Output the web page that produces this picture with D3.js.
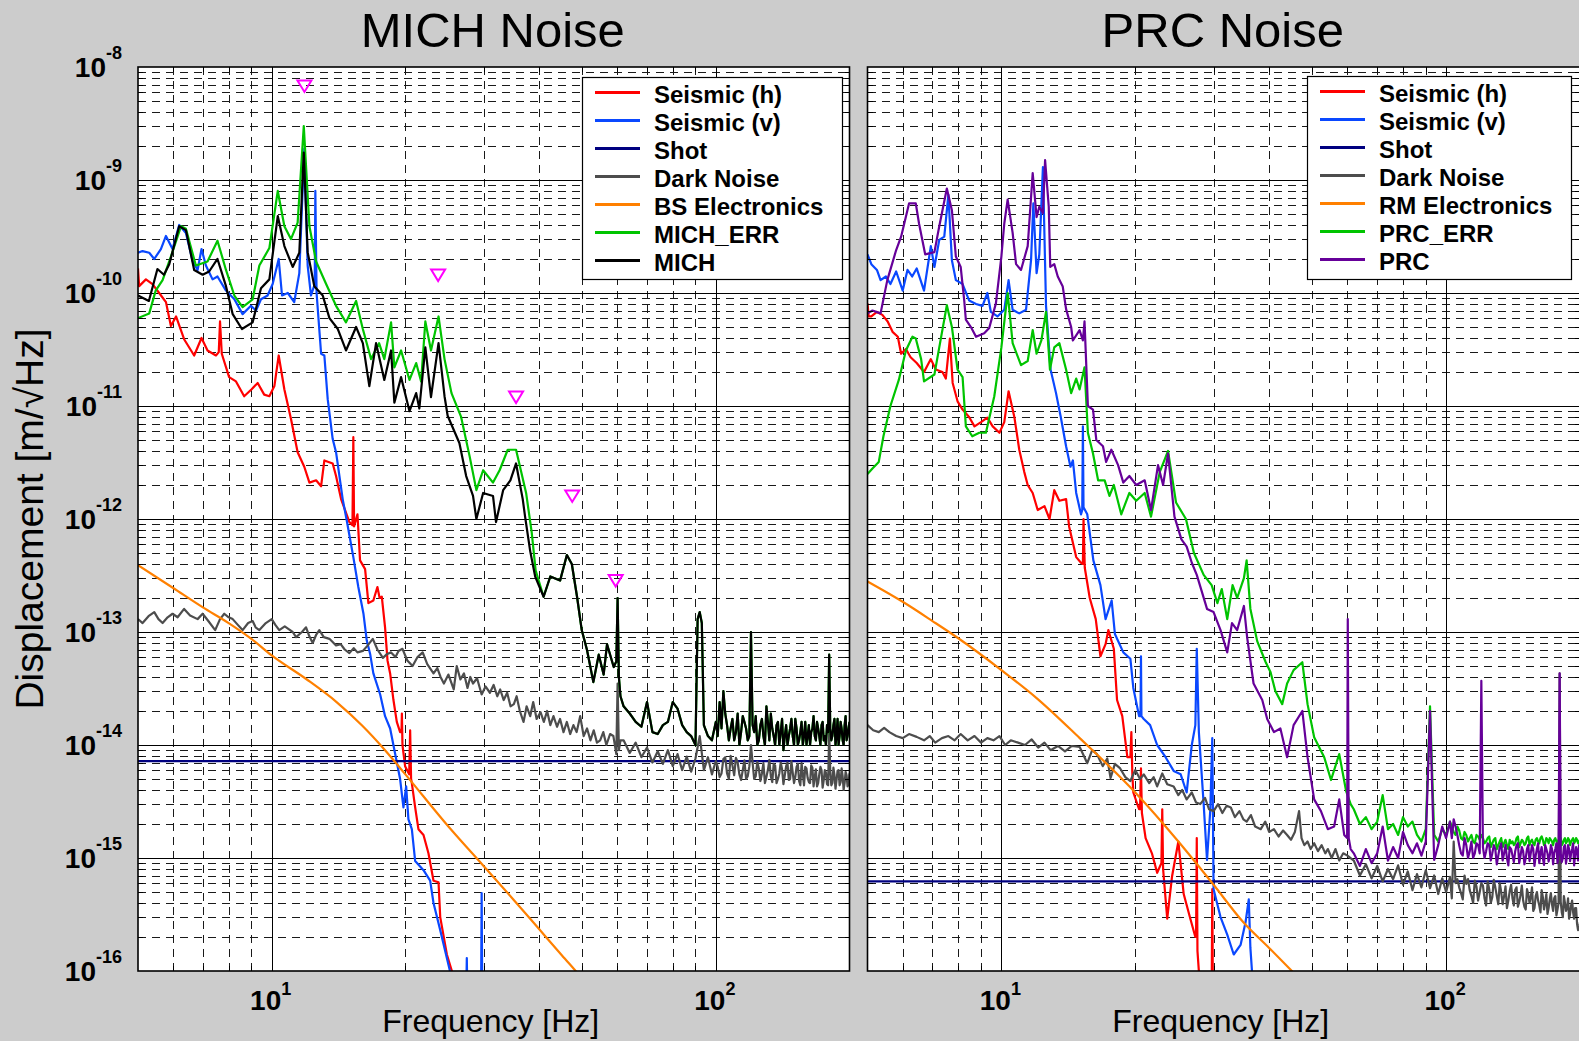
<!DOCTYPE html>
<html>
<head>
<meta charset="utf-8">
<script src="https://cdn.jsdelivr.net/npm/d3@7"></script>
<style>
  body { margin: 0; background: #cccccc; }
  svg { display: block; }
  text { font-family: "Liberation Sans", Arial, Helvetica, sans-serif; }
</style>
</head>
<body>
<svg id="chart" width="1579" height="1041"></svg>
<script>
// ---------- MICH panel: [frequency Hz, displacement m/rtHz] ----------
const michSeisH = [[5.0,1.65e-10],[5.03,1.15e-10],[5.21,1.32e-10],[5.39,1.2e-10],[5.58,1.0e-10],[5.78,8.3e-11],[5.93,5.1e-11],[6.09,6.2e-11],[6.35,3.9e-11],[6.69,2.8e-11],[6.95,4.0e-11],[7.17,3.1e-11],[7.49,2.8e-11],[7.6,3.0e-11],[7.65,5.6e-11],[7.72,2.9e-11],[8.02,1.8e-11],[8.31,1.65e-11],[8.67,1.22e-11],[9.0,1.4e-11],[9.3,1.6e-11],[9.62,1.26e-11],[9.88,1.22e-11],[10.14,1.5e-11],[10.37,2.8e-11],[10.68,1.4e-11],[11.05,7.7e-12],[11.44,3.9e-12],[11.84,2.9e-12],[12.16,2.1e-12],[12.59,2.2e-12],[12.92,1.95e-12],[13.14,3.3e-12],[13.72,3.1e-12],[13.96,2.4e-12],[14.33,1.5e-12],[14.96,9.4e-13],[15.2,8.8e-13],[15.27,5.3e-12],[15.33,8.6e-13],[15.6,1.1e-12],[15.81,4.3e-13],[16.23,3.6e-13],[16.51,1.8e-13],[16.94,1.9e-13],[17.3,2.5e-13],[17.5,2.0e-13],[17.7,2.05e-13],[18.0,1.1e-13],[18.23,5.6e-14],[18.48,4.3e-14],[18.8,2.5e-14],[19.13,1.6e-14],[19.46,1.3e-14],[19.6,1.3e-14],[19.64,1.9e-14],[19.7,1.0e-14],[19.97,6.5e-15],[20.4,5.5e-15],[20.5,1.35e-14],[20.6,5.0e-15],[20.68,4.6e-15],[21.04,2.8e-15],[21.4,1.8e-15],[21.97,1.6e-15],[22.54,1.1e-15],[23.14,6.3e-16],[23.75,6.1e-16],[23.96,3.0e-16],[24.8,1.4e-16],[25.45,1.0e-16],[26.0,7e-17]];

const michSeisV = [[5.0,2.27e-10],[5.12,2.35e-10],[5.3,2.27e-10],[5.44,2.0e-10],[5.63,2.45e-10],[5.78,3.2e-10],[5.98,2.45e-10],[6.19,4.0e-10],[6.41,3.4e-10],[6.64,1.9e-10],[6.81,1.6e-10],[6.95,2.45e-10],[7.11,1.75e-10],[7.36,1.32e-10],[7.55,1.4e-10],[7.89,1.05e-10],[8.24,8.8e-11],[8.6,6.5e-11],[8.98,7.7e-11],[9.22,7.0e-11],[9.46,8.8e-11],[9.79,9.5e-11],[10.05,1.2e-10],[10.37,2.0e-10],[10.55,9.5e-11],[10.87,1.0e-10],[11.24,8.3e-11],[11.54,1.5e-10],[11.84,1.9e-9],[12.05,1.75e-10],[12.26,9.5e-11],[12.5,1.2e-10],[12.54,8.0e-10],[12.62,1.0e-10],[12.92,2.9e-11],[13.14,2.8e-11],[13.37,1.15e-11],[13.72,5.1e-12],[13.96,3.9e-12],[14.45,1.5e-12],[14.75,9.8e-13],[15.27,4.6e-13],[15.67,2.5e-13],[16.09,1.46e-13],[16.37,8.4e-14],[16.66,6.4e-14],[16.94,4.3e-14],[17.55,2.8e-14],[18.0,1.8e-14],[18.48,1.4e-14],[18.96,8.4e-15],[19.46,5.0e-15],[19.8,2.8e-15],[20.08,4.3e-15],[20.32,2.2e-15],[20.68,1.8e-15],[21.04,9.4e-16],[21.97,7.8e-16],[22.74,6.3e-16],[23.14,4.0e-16],[23.96,2.3e-16],[25.2,1.0e-16],[26.0,7e-17],[27.4,5e-17],[27.5,1.3e-16],[27.6,5e-17],[29.6,5e-17],[29.7,4.9e-16],[29.8,5e-17],[32.0,4e-17]];

const michShot = [[5,7.2e-15],[200,7.2e-15]];

const michDarkMain = [[5.0,1.3e-13],[5.12,1.2e-13],[5.28,1.38e-13],[5.44,1.5e-13],[5.56,1.3e-13],[5.68,1.2e-13],[5.83,1.35e-13],[5.98,1.45e-13],[6.14,1.35e-13],[6.35,1.6e-13],[6.55,1.4e-13],[6.81,1.3e-13],[6.99,1.45e-13],[7.2,1.25e-13],[7.46,1.04e-13],[7.65,1.3e-13],[7.82,1.45e-13],[8.0,1.35e-13],[8.17,1.3e-13],[8.4,1.15e-13],[8.6,1.04e-13],[8.85,1.2e-13],[9.06,1.25e-13],[9.2,1.1e-13],[9.38,1.04e-13],[9.7,1.2e-13],[10.0,1.3e-13],[10.2,1.15e-13],[10.4,1.04e-13],[10.7,1.12e-13],[10.96,1.05e-13],[11.15,1.0e-13],[11.35,9.0e-14],[11.7,1.0e-13],[11.95,1.1e-13],[12.15,9.2e-14],[12.37,8.0e-14],[12.6,9.5e-14],[12.8,1.04e-13],[13.1,9.0e-14],[13.49,8.7e-14],[13.7,8.2e-14],[13.96,7.6e-14],[14.3,7.8e-14],[14.6,7.0e-14],[14.96,6.5e-14],[15.3,7.2e-14],[15.6,6.6e-14],[16.04,6.8e-14],[16.4,7.5e-14],[16.89,8.7e-14],[17.3,7.0e-14],[17.8,5.9e-14],[18.2,6.4e-14],[18.57,6.6e-14],[19.0,6.0e-14],[19.3,6.8e-14],[19.7,7.1e-14],[20.2,5.6e-14],[20.76,5.0e-14],[21.3,6.0e-14],[21.88,6.6e-14],[22.4,5.2e-14],[23.14,4.3e-14],[23.6,4.8e-14],[24.0,4.0e-14],[24.42,3.5e-14],[25.0,4.2e-14],[25.7,3.1e-14],[26.1,5.0e-14],[26.6,3.8e-14],[27.1,4.3e-14],[27.6,3.2e-14],[28.0,4.0e-14],[28.4,3.5e-14],[29.0,3.9e-14],[29.7,2.8e-14],[30.3,3.3e-14],[31.0,2.9e-14],[31.6,3.4e-14],[32.2,2.7e-14],[32.7,3.1e-14],[33.3,2.5e-14],[33.9,2.9e-14],[34.5,2.2e-14],[35.1,2.3e-14],[35.6,2.7e-14],[36.2,2.0e-14],[36.9,1.6e-14],[37.5,2.2e-14],[38.2,1.8e-14],[38.8,2.4e-14],[39.5,1.7e-14],[40.3,1.95e-14],[41.0,1.6e-14],[41.7,2.0e-14],[42.4,1.5e-14],[43.1,1.8e-14],[43.9,1.45e-14],[44.6,1.7e-14],[45.4,1.3e-14],[46.2,1.6e-14],[47.0,1.25e-14],[47.8,1.5e-14],[48.6,1.3e-14],[49.5,1.8e-14],[50.4,1.2e-14],[51.3,1.4e-14],[52.2,1.1e-14],[53.1,1.35e-14],[54.0,1.05e-14],[54.9,1.1e-14],[55.8,1.3e-14],[56.7,1.0e-14],[57.8,1.25e-14],[58.8,1.2e-14],[59.7,8.3e-15],[60.1,3.5e-14],[60.5,9.0e-15],[61.0,1.1e-14],
  [62,1.1e-14],[64,8.5e-15],[66,1.05e-14],[68,7.8e-15],[70,9.5e-15],[72,7.0e-15],[74,8.8e-15],[76,6.8e-15],[78,9.0e-15],[80,6.5e-15],[82,8.3e-15],[84,6.0e-15],[86,7.9e-15],[88,5.8e-15],[90,7.6e-15],[92,1.2e-14],[94,6.0e-15],[96,7.8e-15],[98,5.5e-15],[100,7.2e-15],[102,5.2e-15],[104,7.5e-15],[106,5.6e-15],[108,8.0e-15],[110,5.4e-15],[112,7.0e-15],[114,4.9e-15],[116,7.3e-15],[118,5.3e-15],[120,1.0e-14],[122,5.0e-15],[124,7.1e-15],[126,4.8e-15],[128,6.9e-15],[130,5.2e-15],[132,7.4e-15],[134,4.7e-15],[136,6.6e-15],[138,5.0e-15],[140,7.0e-15],[142,4.5e-15],[144,6.5e-15],[146,4.9e-15],[148,7.2e-15],[150,4.6e-15],[152,6.4e-15],[154,4.8e-15],[156,6.9e-15],[158,4.4e-15],[160,6.2e-15],[162,4.7e-15],[164,6.6e-15],[166,4.3e-15],[168,6.1e-15],[170,4.6e-15],[172,6.4e-15],[174,4.2e-15],[176,6.0e-15],[178,4.5e-15],[180,1.3e-14],[182,4.4e-15],[184,6.3e-15],[186,4.1e-15],[188,5.9e-15],[190,4.4e-15],[192,6.2e-15],[194,4.0e-15],[196,5.8e-15],[198,4.3e-15],[200,5.6e-15]];
const michDarkFine = [[101,6.4e-15],[103,5.6e-15],[105,7.8e-15],[107,5.0e-15],[109,6.6e-15],[111,7.7e-15],[113,5.5e-15],[115,6.0e-15],[117,5.0e-15],[119,6.5e-15],[121,7.0e-15],[123,5.3e-15],[125,6.2e-15],[127,5.6e-15],[129,4.6e-15],[131,6.0e-15],[133,5.3e-15],[135,6.8e-15],[137,4.6e-15],[139,5.6e-15],[141,6.1e-15],[143,5.4e-15],[145,7.0e-15],[147,5.0e-15],[149,5.7e-15],[151,5.2e-15],[153,6.8e-15],[155,4.4e-15],[157,5.5e-15],[159,6.4e-15],[161,5.1e-15],[163,4.6e-15],[165,6.3e-15],[167,5.2e-15],[169,4.3e-15],[171,5.5e-15],[173,6.0e-15],[175,4.9e-15],[177,5.7e-15],[179,4.4e-15],[181,5.9e-15],[183,4.6e-15],[185,5.4e-15],[187,4.9e-15],[189,6.0e-15],[191,4.7e-15],[193,5.3e-15],[195,4.6e-15],[197,5.4e-15],[199,4.5e-15]];

const bsElectronics = [[5,3.9e-13],[6,2.45e-13],[7,1.65e-13],[8,1.2e-13],[9,8.7e-14],[10,6.2e-14],[12,3.8e-14],[14,2.4e-14],[16,1.48e-14],[18,9.0e-15],[20,5.5e-15],[25,1.9e-15],[30,8.5e-16],[35,4.3e-16],[40,2.35e-16],[45,1.38e-16],[50,8.6e-17],[55,5.5e-17]];

const michSignalMain = [[5.0,9.5e-11],[5.29,8.5e-11],[5.53,1.63e-10],[5.72,1.45e-10],[5.88,1.8e-10],[6.19,3.9e-10],[6.41,3.6e-10],[6.69,1.6e-10],[6.99,1.45e-10],[7.23,1.55e-10],[7.55,2.0e-10],[7.89,1.15e-10],[8.17,6.5e-11],[8.57,4.8e-11],[9.06,5.5e-11],[9.46,1.1e-10],[9.88,1.32e-10],[10.32,4.8e-10],[10.68,2.6e-10],[11.15,1.7e-10],[11.54,2.27e-10],[11.81,1.75e-9],[12.05,2.3e-10],[12.47,1.15e-10],[13.03,9.5e-11],[13.49,6.0e-11],[14.09,4.8e-11],[14.7,3.1e-11],[15.49,5.0e-11],[16.04,3.6e-11],[16.59,1.5e-11],[17.18,3.6e-11],[17.93,1.7e-11],[18.57,3.1e-11],[18.89,1.07e-11],[19.56,1.8e-11],[20.43,9.0e-12],[21.15,1.3e-11],[21.5,9.5e-12],[22.18,3.3e-11],[22.84,1.2e-11],[23.75,3.6e-11],[24.5,1.22e-11],[24.9,8.2e-12],[26.46,4.7e-12],[27.41,2.4e-12],[28.4,1.6e-12],[28.9,1.0e-12],[29.93,1.7e-12],[31.5,1.6e-12],[32.0,9.4e-13],[33.2,1.8e-12],[34.47,2.2e-12],[35.5,3.1e-12],[36.75,1.5e-12],[37.2,1.05e-12],[38.2,5.2e-13],[39.2,3.1e-13],[40.95,2.05e-13],[42.4,3.1e-13],[44.6,2.85e-13],[46.2,4.8e-13],[47.4,4.0e-13],[48.7,2.05e-13],[49.9,1.04e-13],[51.3,6.9e-14],[53.0,3.6e-14],[54.5,6.3e-14],[55.9,4.2e-14],[56.9,7.8e-14],[58.9,4.9e-14],[59.7,5.5e-14],[60.1,2.0e-13],[60.5,4.0e-14],[61.0,2.7e-14],
  [62,2.2e-14],[64,1.9e-14],[66,1.6e-14],[68,1.45e-14],[70,2.4e-14],[72,1.3e-14],[74,1.25e-14],[76,1.5e-14],[78,1.6e-14],[80,2.4e-14],[82,2.1e-14],[84,1.5e-14],[86,1.3e-14],[88,1.2e-14],[90,1.0e-14],[91,1.3e-13],[92,1.5e-13],[93,1.2e-13],[94,1.5e-14],[96,1.2e-14],[98,1.1e-14],[100,1.6e-14],[102,2.4e-14],[104,3.0e-14],[106,1.5e-14],[108,1.4e-14],[110,1.1e-14],[112,1.9e-14],[114,1.3e-14],[116,1.6e-14],[118,1.1e-14],[120,1.0e-13],[122,1.3e-14],[124,1.0e-14],[126,1.5e-14],[128,1.2e-14],[130,2.2e-14],[132,1.1e-14],[134,1.4e-14],[136,1.0e-14],[138,1.6e-14],[140,1.3e-14],[142,0.9e-14],[144,1.5e-14],[146,1.2e-14],[148,1.7e-14],[150,1.0e-14],[152,1.4e-14],[154,1.1e-14],[156,1.6e-14],[158,1.2e-14],[160,1.0e-14],[162,1.5e-14],[164,1.3e-14],[166,1.8e-14],[168,1.1e-14],[170,1.4e-14],[172,1.0e-14],[174,1.6e-14],[176,1.2e-14],[178,1.5e-14],[180,6.3e-14],[182,1.1e-14],[184,1.5e-14],[186,1.0e-14],[188,1.7e-14],[190,1.2e-14],[192,1.4e-14],[194,1.0e-14],[196,1.8e-14],[198,1.2e-14],[200,1.6e-14]];
const michSignalFine = [[101,1.2e-14],[103,1.4e-14],[105,1.9e-14],[107,1.1e-14],[109,1.7e-14],[111,1.3e-14],[113,1.0e-14],[115,1.8e-14],[117,1.4e-14],[119,1.2e-14],[121,1.5e-14],[123,1.8e-14],[125,1.1e-14],[127,1.7e-14],[129,1.0e-14],[131,1.6e-14],[133,1.9e-14],[135,1.2e-14],[137,1.5e-14],[139,1.0e-14],[141,1.7e-14],[143,1.2e-14],[145,1.0e-14],[147,1.4e-14],[149,1.2e-14],[151,1.7e-14],[153,1.0e-14],[155,1.3e-14],[157,1.0e-14],[159,1.6e-14],[161,1.2e-14],[163,1.0e-14],[165,1.4e-14],[167,1.2e-14],[169,1.6e-14],[171,1.2e-14],[173,1.5e-14],[175,1.1e-14],[177,1.0e-14],[179,1.3e-14],[181,1.4e-14],[183,1.2e-14],[185,1.7e-14],[187,1.2e-14],[189,1.0e-14],[191,1.6e-14],[193,1.1e-14],[195,1.5e-14],[197,1.1e-14],[199,1.4e-14]];

// error signal below 40 Hz; above that it runs under the calibrated signal
const michErrLow = [[5.0,6.0e-11],[5.3,6.6e-11],[5.48,1.05e-10],[5.68,1.3e-10],[5.93,2.1e-10],[6.25,3.9e-10],[6.41,3.7e-10],[6.75,1.75e-10],[7.17,1.9e-10],[7.55,2.9e-10],[7.89,1.6e-10],[8.24,9.5e-11],[8.6,7.5e-11],[9.06,8.8e-11],[9.38,1.75e-10],[9.88,2.5e-10],[10.32,8.0e-10],[10.68,3.9e-10],[11.05,3.0e-10],[11.44,4.2e-10],[11.81,3.0e-9],[12.16,3.9e-10],[12.59,1.9e-10],[13.26,1.2e-10],[13.96,7.7e-11],[14.7,5.5e-11],[15.49,8.5e-11],[16.04,4.8e-11],[16.74,2.6e-11],[17.45,3.6e-11],[17.93,2.6e-11],[18.57,5.5e-11],[18.89,2.2e-11],[19.56,3.1e-11],[20.43,1.7e-11],[21.15,2.4e-11],[21.7,1.65e-11],[22.18,5.6e-11],[22.84,3.1e-11],[23.75,6.2e-11],[24.5,2.6e-11],[25.4,1.3e-11],[26.7,8.0e-12],[27.9,3.6e-12],[28.9,1.8e-12],[29.93,2.7e-12],[31.5,2.1e-12],[32.6,2.7e-12],[34.0,4.1e-12],[35.5,4.1e-12],[37.4,1.7e-12],[38.5,7.6e-13],[39.3,3.5e-13]];

// harmonic markers
const michMarkers = [[11.85,6.8e-9],[23.7,1.44e-10],[35.5,1.2e-11],[47.5,1.6e-12],[59.5,2.85e-13]];

// ---------- PRC panel ----------
const prcSeisH = [[5.0,8.1e-11],[5.03,6.2e-11],[5.1,6.2e-11],[5.25,6.8e-11],[5.4,6.4e-11],[5.55,5.6e-11],[5.7,4.5e-11],[5.85,4.1e-11],[5.95,2.9e-11],[6.1,3.2e-11],[6.25,2.7e-11],[6.45,2.4e-11],[6.7,2.0e-11],[6.94,2.6e-11],[7.12,2.1e-11],[7.37,2.0e-11],[7.5,1.75e-11],[7.66,3.95e-11],[7.77,1.6e-11],[7.97,1.1e-11],[8.18,9.3e-12],[8.46,8.0e-12],[8.7,6.6e-12],[9.0,7.2e-12],[9.3,7.9e-12],[9.56,6.6e-12],[9.9,5.8e-12],[10.15,7.2e-12],[10.38,1.35e-11],[10.7,7.9e-12],[10.97,4.1e-12],[11.26,2.6e-12],[11.46,2.0e-12],[11.76,1.7e-12],[12.07,1.2e-12],[12.5,1.3e-12],[12.83,1.0e-12],[13.15,1.8e-12],[13.5,1.45e-12],[13.98,1.5e-12],[14.2,8.6e-13],[14.73,4.6e-13],[15.1,4.1e-13],[15.25,4.0e-13],[15.3,1.0e-12],[15.4,3.7e-13],[15.8,2.0e-13],[16.3,1.3e-13],[16.7,6.1e-14],[17.15,7.8e-14],[17.4,1.04e-13],[17.9,7.1e-14],[18.2,2.5e-14],[18.7,1.8e-14],[19.2,7.8e-15],[19.5,7.8e-15],[19.6,1.3e-14],[19.7,5.5e-15],[19.8,3.8e-15],[20.4,2.7e-15],[20.5,2.7e-15],[20.6,6.2e-15],[20.7,2.5e-15],[21.1,1.5e-15],[21.8,1.1e-15],[22.4,7.4e-16],[22.9,9e-16],[23.0,2.7e-15],[23.1,8e-16],[23.6,2.9e-16],[24.2,6.9e-16],[25.0,1.4e-15],[25.7,4.8e-16],[26.6,2.9e-16],[27.3,2.0e-16],[27.4,2.0e-16],[27.5,1.5e-15],[27.6,1.5e-16],[27.8,1.0e-16],[28.5,5e-17],[29.7,5e-17],[29.8,5.3e-16],[29.9,5e-17]];

const prcSeisV = [[5.0,2.2e-10],[5.1,1.8e-10],[5.25,1.6e-10],[5.35,1.3e-10],[5.5,1.4e-10],[5.63,1.2e-10],[5.8,1.55e-10],[6.0,1.05e-10],[6.15,1.6e-10],[6.3,1.4e-10],[6.45,1.65e-10],[6.7,1.05e-10],[6.94,2.6e-10],[7.07,1.7e-10],[7.25,2.95e-10],[7.44,3.15e-10],[7.6,7.4e-10],[7.74,1.95e-10],[7.9,1.3e-10],[8.18,1.2e-10],[8.46,8.6e-11],[8.77,8.0e-11],[9.07,7.7e-11],[9.3,1.0e-10],[9.47,6.8e-11],[9.8,6.2e-11],[10.15,7.1e-11],[10.38,1.3e-10],[10.6,7.1e-11],[10.97,6.6e-11],[11.36,7.1e-11],[11.66,1.95e-10],[11.8,6.2e-10],[12.0,1.5e-10],[12.17,2.2e-10],[12.4,1.3e-9],[12.6,7.7e-11],[12.9,2.1e-11],[13.27,1.3e-11],[13.6,8.0e-12],[13.98,4.4e-12],[14.3,2.9e-12],[14.48,3.3e-12],[14.73,1.7e-12],[15.1,1.1e-12],[15.2,1.2e-12],[15.25,6.6e-12],[15.3,1.27e-12],[15.6,1.1e-12],[16.1,4.3e-13],[16.7,2.6e-13],[17.15,1.3e-13],[17.7,1.9e-13],[18.0,9.6e-14],[18.8,6.6e-14],[19.5,5.8e-14],[19.8,3.2e-14],[20.4,1.8e-14],[20.55,1.8e-14],[20.6,6.1e-14],[20.65,1.8e-14],[20.9,1.7e-14],[21.6,1.5e-14],[22.4,1.0e-14],[23.4,7.8e-15],[24.4,5.9e-15],[25.3,5.5e-15],[26.1,3.8e-15],[26.8,1.0e-14],[27.3,1.5e-14],[27.5,7.1e-14],[27.8,1.3e-14],[28.5,3.0e-15],[29.0,9.6e-16],[29.5,2.7e-15],[29.8,1.15e-14],[30.0,5.3e-16],[31.1,3.0e-16],[32.2,2.1e-16],[33.3,1.4e-16],[34.5,1.7e-16],[35.4,2.7e-16],[36.0,4.3e-16],[36.3,1.6e-16],[36.6,1.0e-16],[37.0,5e-17]];

const prcShot = [[5,6.2e-16],[200,6.2e-16]];

const prcDarkMain = [[5.0,1.5e-14],[5.15,1.35e-14],[5.3,1.3e-14],[5.45,1.42e-14],[5.6,1.3e-14],[5.8,1.2e-14],[6.0,1.15e-14],[6.2,1.25e-14],[6.45,1.18e-14],[6.7,1.1e-14],[6.9,1.2e-14],[7.1,1.05e-14],[7.35,1.15e-14],[7.6,1.2e-14],[7.85,1.1e-14],[8.1,1.25e-14],[8.4,1.1e-14],[8.7,1.2e-14],[9.0,1.05e-14],[9.3,1.15e-14],[9.6,1.1e-14],[9.9,1.2e-14],[10.2,1.0e-14],[10.5,1.1e-14],[10.9,1.05e-14],[11.3,1.0e-14],[11.7,1.12e-14],[12.1,9.5e-15],[12.5,1.05e-14],[12.9,9.0e-15],[13.4,9.8e-15],[13.9,8.8e-15],[14.4,9.8e-15],[15.0,9.6e-15],
  [15.6,6.9e-15],[16.0,9.0e-15],[16.4,8.3e-15],[16.9,6.5e-15],[17.3,7.6e-15],[17.6,5.1e-15],[18.0,6.8e-15],[18.5,6.2e-15],[19.0,5.2e-15],[19.5,4.8e-15],[20.0,6.0e-15],[20.5,5.0e-15],[20.9,5.5e-15],[21.5,4.6e-15],[22.0,5.2e-15],[22.4,4.3e-15],[23.0,5.6e-15],[23.6,4.5e-15],[24.4,4.3e-15],[25.0,3.6e-15],[25.5,4.0e-15],[26.1,3.3e-15],[26.8,3.8e-15],[27.4,3.1e-15],[28.0,3.0e-15],[28.7,3.4e-15],[29.3,2.7e-15],[30.0,2.6e-15],[30.7,3.0e-15],[31.4,2.5e-15],[32.1,2.9e-15],[32.8,2.8e-15],[33.5,2.3e-15],[34.3,2.6e-15],[35.0,2.2e-15],[35.6,2.1e-15],[36.4,2.4e-15],[37.2,1.9e-15],[38.3,1.8e-15],[39.2,2.1e-15],[40.0,1.7e-15],[41.0,1.8e-15],[42.0,1.55e-15],[43.0,1.75e-15],[43.9,1.6e-15],[44.8,1.45e-15],[45.7,1.7e-15],[46.7,2.6e-15],[47.3,1.5e-15],[48.0,1.3e-15],[48.8,1.4e-15],[49.6,1.2e-15],[50.5,1.35e-15],[51.5,1.15e-15],[52.5,1.3e-15],[53.5,1.1e-15],[54.2,1.2e-15],[55.3,1.0e-15],[56.4,1.2e-15],[57.5,9.5e-16],[58.7,1.1e-15],[60.0,1.05e-15],
  [62,9.5e-16],[64,7.0e-16],[66,8.8e-16],[68,6.6e-16],[70,8.5e-16],[72,6.2e-16],[74,8.0e-16],[76,6.5e-16],[78,8.6e-16],[80,5.8e-16],[82,7.6e-16],[84,5.2e-16],[86,7.2e-16],[88,5.5e-16],[90,7.8e-16],[92,5.4e-16],[94,7.0e-16],[96,4.8e-16],[98,6.6e-16],[100,5.0e-16],[102,6.8e-16],[104,1.4e-15],[106,6.5e-16],[108,4.9e-16],[110,7.0e-16],[112,6.5e-16],[114,4.6e-16],[116,6.3e-16],[118,4.2e-16],[120,6.0e-16],[122,4.4e-16],[124,6.2e-16],[126,4.0e-16],[128,6.4e-16],[130,4.6e-16],[132,6.0e-16],[134,3.9e-16],[136,5.6e-16],[138,4.2e-16],[140,5.8e-16],[142,3.8e-16],[144,5.5e-16],[146,4.1e-16],[148,5.7e-16],[150,3.7e-16],[152,5.3e-16],[154,4.0e-16],[156,5.5e-16],[158,3.6e-16],[160,5.0e-16],[162,3.8e-16],[164,5.2e-16],[166,3.5e-16],[168,4.8e-16],[170,3.6e-16],[172,4.9e-16],[174,3.4e-16],[176,4.6e-16],[178,3.5e-16],[180,4.3e-14],[182,3.3e-16],[184,4.6e-16],[186,3.4e-16],[188,4.4e-16],[190,3.2e-16],[192,4.2e-16],[194,2.9e-16],[196,3.6e-16],[198,2.3e-16],[200,2.7e-16]];
const prcDarkFine = [[101,5.8e-16],[103,4.4e-16],[105,6.0e-16],[107,5.5e-16],[109,4.3e-16],[111,5.9e-16],[113,5.2e-16],[115,4.0e-16],[117,5.6e-16],[119,5.0e-16],[121,5.7e-16],[123,3.8e-16],[125,5.3e-16],[127,4.5e-16],[129,5.5e-16],[131,3.9e-16],[133,5.0e-16],[135,4.6e-16],[137,3.6e-16],[139,5.1e-16],[141,4.4e-16],[143,5.2e-16],[145,3.7e-16],[147,4.7e-16],[149,4.2e-16],[151,3.5e-16],[153,4.8e-16],[155,4.5e-16],[157,3.4e-16],[159,4.6e-16],[161,4.2e-16],[163,3.3e-16],[165,4.5e-16],[167,4.0e-16],[169,3.2e-16],[171,4.3e-16],[173,3.9e-16],[175,4.4e-16],[177,3.1e-16],[179,4.0e-16],[181,4.1e-16],[183,3.0e-16],[185,4.0e-16],[187,3.6e-16],[189,2.9e-16],[191,3.8e-16],[193,3.3e-16],[195,3.6e-16],[197,2.6e-16],[199,2.4e-16]];

const rmElectronics = [[5,2.8e-13],[6,1.85e-13],[7,1.25e-13],[8,8.8e-14],[10,4.6e-14],[12,2.6e-14],[15,1.15e-14],[20,3.8e-15],[25,1.4e-15],[30,5.8e-16],[35,2.7e-16],[40,1.6e-16],[45,1.0e-16],[50,6.5e-17]];

const prcErrMain = [[5.0,2.5e-12],[5.13,2.8e-12],[5.3,3.2e-12],[5.43,5.4e-12],[5.63,1.0e-11],[5.88,1.7e-11],[6.1,3.1e-11],[6.31,4.1e-11],[6.42,3.95e-11],[6.6,2.6e-11],[6.7,1.65e-11],[7.07,1.9e-11],[7.25,3.3e-11],[7.54,7.8e-11],[7.74,5.0e-11],[7.97,2.1e-11],[8.18,1.8e-11],[8.32,6.6e-12],[8.6,5.4e-12],[8.92,5.8e-12],[9.23,5.8e-12],[9.64,1.22e-11],[10.0,3.3e-11],[10.33,1.0e-10],[10.6,3.6e-11],[11.07,2.3e-11],[11.46,2.5e-11],[11.76,4.7e-11],[12.0,2.9e-11],[12.3,3.8e-11],[12.6,6.8e-11],[12.86,2.1e-11],[13.15,3.3e-11],[13.5,3.6e-11],[13.98,2.1e-11],[14.35,1.3e-11],[14.73,1.75e-11],[14.99,1.4e-11],[15.38,2.2e-11],[15.65,5.8e-12],[16.07,3.8e-12],[16.5,2.2e-12],[17.07,2.2e-12],[17.5,1.6e-12],[17.9,2.0e-12],[18.6,1.1e-12],[19.4,1.7e-12],[20.1,1.45e-12],[21.0,1.7e-12],[21.7,1.05e-12],[22.7,2.6e-12],[23.7,4.0e-12],[24.7,1.4e-12],[26.0,1.0e-12],[27.1,5.0e-13],[28.5,3.2e-13],[29.7,2.6e-13],[30.6,1.8e-13],[31.3,2.4e-13],[32.2,1.3e-13],[33.1,2.6e-13],[33.9,2.0e-13],[35.1,3.0e-13],[35.6,4.3e-13],[36.3,1.6e-13],[37.6,8.3e-14],[39.3,5.4e-14],[40.3,4.4e-14],[41.3,3.0e-14],[42.8,2.3e-14],[43.9,3.5e-14],[45.4,4.6e-14],[47.5,5.4e-14],[48.8,2.3e-14],[50.5,1.17e-14],[53.2,7.8e-15],[55.1,4.9e-15],[57.5,8.3e-15],[59.6,3.9e-15],[61.0,3.0e-15],
  [62,2.7e-15],[64,2.0e-15],[66,2.3e-15],[68,1.8e-15],[70,2.1e-15],[72,3.6e-15],[74,1.8e-15],[76,2.0e-15],[78,1.6e-15],[80,2.3e-15],[82,1.9e-15],[84,2.1e-15],[86,1.6e-15],[88,1.4e-15],[90,1.8e-15],[92,2.2e-14],[94,1.6e-15],[96,1.4e-15],[98,1.8e-15],[100,1.6e-15],[102,2.1e-15],[104,1.7e-15],[106,1.9e-15],[108,1.5e-15],[110,1.7e-15],[112,1.4e-15],[114,1.6e-15],[116,1.35e-15],[118,1.55e-15],[120,1.6e-15],[122,1.35e-15],[124,1.5e-15],[126,1.25e-15],[128,1.45e-15],[130,1.2e-15],[132,1.4e-15],[134,1.25e-15],[136,1.45e-15],[138,1.2e-15],[140,1.35e-15],[142,1.3e-15],[144,1.5e-15],[146,1.25e-15],[148,1.45e-15],[150,1.3e-15],[152,1.5e-15],[154,1.3e-15],[156,1.45e-15],[158,1.3e-15],[160,1.5e-15],[162,1.35e-15],[164,1.55e-15],[166,1.3e-15],[168,1.5e-15],[170,1.35e-15],[172,1.45e-15],[174,1.3e-15],[176,1.5e-15],[178,1.35e-15],[180,1.5e-15],[182,1.3e-15],[184,1.45e-15],[186,1.35e-15],[188,1.5e-15],[190,1.3e-15],[192,1.45e-15],[194,1.35e-15],[196,1.5e-15],[198,1.35e-15],[200,1.45e-15]];
const prcErrFine = [[101,1.8e-15],[103,1.9e-15],[105,1.6e-15],[107,1.75e-15],[109,1.45e-15],[111,1.6e-15],[113,1.5e-15],[115,1.4e-15],[117,1.6e-15],[119,1.45e-15],[121,1.5e-15],[123,1.4e-15],[125,1.55e-15],[127,1.35e-15],[129,1.5e-15],[131,1.3e-15],[133,1.5e-15],[135,1.35e-15],[137,1.3e-15],[139,1.45e-15],[141,1.4e-15],[143,1.35e-15],[145,1.55e-15],[147,1.35e-15],[149,1.4e-15],[151,1.35e-15],[153,1.55e-15],[155,1.4e-15],[157,1.35e-15],[159,1.45e-15],[161,1.4e-15],[163,1.5e-15],[165,1.45e-15],[167,1.35e-15],[169,1.45e-15],[171,1.5e-15],[173,1.4e-15],[175,1.45e-15],[177,1.4e-15],[179,1.45e-15],[181,1.5e-15],[183,1.35e-15],[185,1.5e-15],[187,1.4e-15],[189,1.45e-15],[191,1.4e-15],[193,1.5e-15],[195,1.4e-15],[197,1.45e-15],[199,1.4e-15]];

const prcSignalMain = [[5.0,6.6e-11],[5.13,7.0e-11],[5.35,6.6e-11],[5.54,1.3e-10],[5.8,2.4e-10],[5.95,3.15e-10],[6.2,6.2e-10],[6.42,6.2e-10],[6.53,4.1e-10],[6.74,2.2e-10],[7.07,2.3e-10],[7.25,3.9e-10],[7.54,8.4e-10],[7.74,5.4e-10],[7.9,2.1e-10],[8.1,1.7e-10],[8.25,8.6e-11],[8.32,5.8e-11],[8.54,5.0e-11],[8.77,4.1e-11],[9.15,4.4e-11],[9.39,4.9e-11],[9.72,8.1e-11],[10.0,2.1e-10],[10.15,4.1e-10],[10.33,6.7e-10],[10.6,3.4e-10],[10.79,1.8e-10],[11.07,1.6e-10],[11.46,2.6e-10],[11.76,1.15e-9],[12.0,4.7e-10],[12.17,5.8e-10],[12.4,5.1e-10],[12.54,1.5e-9],[12.78,5.8e-10],[12.88,1.7e-10],[13.15,1.8e-10],[13.39,1.4e-10],[13.74,1.14e-10],[13.98,7.2e-11],[14.35,5.0e-11],[14.48,3.8e-11],[14.99,4.7e-11],[15.25,3.8e-11],[15.38,5.6e-11],[15.65,1.0e-11],[16.07,9.3e-12],[16.35,5.0e-12],[16.92,4.4e-12],[17.2,3.2e-12],[17.67,4.1e-12],[18.3,3.0e-12],[18.8,2.1e-12],[19.4,2.4e-12],[20.1,2.0e-12],[21.0,2.2e-12],[21.7,1.2e-12],[22.5,3.0e-12],[23.1,2.0e-12],[23.7,3.8e-12],[24.5,1.05e-12],[25.4,6.6e-13],[26.1,5.7e-13],[26.8,4.1e-13],[27.5,3.2e-13],[29.0,1.6e-13],[30.0,1.5e-13],[31.1,1.04e-13],[32.2,6.6e-14],[33.0,1.2e-13],[33.9,1.04e-13],[35.1,1.7e-13],[35.7,8.9e-14],[36.9,3.5e-14],[38.6,2.5e-14],[39.6,1.7e-14],[41.0,1.3e-14],[42.4,1.4e-14],[43.9,7.8e-15],[45.4,1.5e-14],[47.5,2.0e-14],[48.8,7.8e-15],[50.5,3.3e-15],[52.3,2.6e-15],[54.2,1.8e-15],[56.0,1.9e-15],[57.5,3.3e-15],[59.0,1.6e-15],[59.9,1.5e-15],[60.1,1.3e-13],[60.4,1.5e-15],[61.0,1.2e-15],
  [62,1.1e-15],[64,8.5e-16],[66,1.2e-15],[68,9.0e-16],[70,1.1e-15],[72,1.9e-15],[74,9.5e-16],[76,1.25e-15],[78,1.0e-15],[80,1.7e-15],[82,1.3e-15],[84,1.1e-15],[86,1.35e-15],[88,1.05e-15],[90,1.4e-15],[92,2.0e-14],[94,9.6e-16],[96,1.3e-15],[98,1.9e-15],[100,1.5e-15],[102,2.1e-15],[104,2.2e-15],[106,1.6e-15],[108,1.1e-15],[110,1.5e-15],[112,1.0e-15],[114,1.4e-15],[116,1.1e-15],[118,1.3e-15],[120,3.7e-14],[122,1.0e-15],[124,1.35e-15],[126,9.5e-16],[128,1.3e-15],[130,8.8e-16],[132,1.25e-15],[134,9.5e-16],[136,1.3e-15],[138,8.6e-16],[140,1.2e-15],[142,9.2e-16],[144,1.3e-15],[146,9.0e-16],[148,1.25e-15],[150,8.8e-16],[152,1.2e-15],[154,9.4e-16],[156,1.3e-15],[158,8.5e-16],[160,1.2e-15],[162,9.0e-16],[164,1.25e-15],[166,8.7e-16],[168,1.2e-15],[170,9.3e-16],[172,1.3e-15],[174,8.8e-16],[176,1.2e-15],[178,9.0e-16],[180,4.3e-14],[182,9.2e-16],[184,1.25e-15],[186,8.9e-16],[188,1.3e-15],[190,9.4e-16],[192,1.2e-15],[194,8.6e-16],[196,1.25e-15],[198,9.5e-16],[200,1.1e-15]];
const prcSignalFine = [[101,1.8e-15],[103,1.5e-15],[105,1.9e-15],[107,1.3e-15],[109,1.05e-15],[111,1.3e-15],[113,1.15e-15],[115,1.0e-15],[117,1.35e-15],[119,1.1e-15],[121,1.25e-15],[123,1.15e-15],[125,1.3e-15],[127,1.1e-15],[129,1.2e-15],[131,1.05e-15],[133,1.35e-15],[135,1.1e-15],[137,1.0e-15],[139,1.25e-15],[141,1.05e-15],[143,1.15e-15],[145,1.35e-15],[147,1.05e-15],[149,1.15e-15],[151,1.0e-15],[153,1.3e-15],[155,1.1e-15],[157,1.2e-15],[159,1.05e-15],[161,1.35e-15],[163,1.1e-15],[165,1.0e-15],[167,1.3e-15],[169,1.1e-15],[171,1.05e-15],[173,1.2e-15],[175,1.1e-15],[177,1.35e-15],[179,1.05e-15],[181,1.1e-15],[183,1.0e-15],[185,1.3e-15],[187,1.05e-15],[189,1.2e-15],[191,1.1e-15],[193,1.35e-15],[195,1.05e-15],[197,1.15e-15],[199,1.3e-15]];

// merge the coarse and fine readings of each trace into frequency order
const byFreq = (a, b) => a[0] - b[0];
const michDark = michDarkMain.concat(michDarkFine).sort(byFreq);
const michSignal = michSignalMain.concat(michSignalFine).sort(byFreq);
const michErr = michErrLow.concat(michSignal.filter(d => d[0] >= 40));
const prcDark = prcDarkMain.concat(prcDarkFine).sort(byFreq);
const prcErr = prcErrMain.concat(prcErrFine).sort(byFreq);
const prcSignal = prcSignalMain.concat(prcSignalFine).sort(byFreq);

// axis ranges and tick labels
const freqRange = [5, 200];
const dispRange = [1e-16, 1e-8];
const xTickExps = [1, 2];
const yTickExps = [-16, -15, -14, -13, -12, -11, -10, -9, -8];

const colors = {
  seisH: "#ff0000", seisV: "#0a48ff", shot: "#000080", dark: "#4d4d4d",
  elec: "#ff8000", err: "#00c400", mich: "#000000", prc: "#660099", marker: "#ff00ff"
};

const panels = [
  { title: "MICH Noise", x0: 138, x1: 849.5, yLabels: true, markers: michMarkers,
    legendBox: { x: 582, y: 77, w: 260, h: 202 },
    series: [
      { name: "Seismic (h)", data: michSeisH, color: colors.seisH },
      { name: "Seismic (v)", data: michSeisV, color: colors.seisV },
      { name: "Shot", data: michShot, color: colors.shot },
      { name: "Dark Noise", data: michDark, color: colors.dark },
      { name: "BS Electronics", data: bsElectronics, color: colors.elec, smooth: true },
      { name: "MICH_ERR", data: michErr, color: colors.err },
      { name: "MICH", data: michSignal, color: colors.mich }
    ] },
  { title: "PRC Noise", x0: 867.5, x1: 1580, yLabels: false, markers: [],
    legendBox: { x: 1307, y: 76, w: 264, h: 203 },
    series: [
      { name: "Seismic (h)", data: prcSeisH, color: colors.seisH },
      { name: "Seismic (v)", data: prcSeisV, color: colors.seisV },
      { name: "Shot", data: prcShot, color: colors.shot },
      { name: "Dark Noise", data: prcDark, color: colors.dark },
      { name: "RM Electronics", data: rmElectronics, color: colors.elec, smooth: true },
      { name: "PRC_ERR", data: prcErr, color: colors.err },
      { name: "PRC", data: prcSignal, color: colors.prc }
    ] }
];

const W = 1579, H = 1041;
const yTop = 67, yBot = 971;
const svg = d3.select("#chart");
svg.append("rect").attr("width", W).attr("height", H).attr("fill", "#cccccc");

// "10" with a raised exponent
function powerLabel(g, x, y, exp, anchor, baseSize, expSize, rise) {
  const t = g.append("text").attr("x", x).attr("y", y)
    .attr("text-anchor", anchor).attr("font-weight", "bold").attr("fill", "#000");
  t.append("tspan").attr("font-size", baseSize).text("10");
  t.append("tspan").attr("font-size", expSize).attr("dy", -rise).text(String(exp));
  return t;
}

const crisp = v => Math.round(v) + 0.5;

panels.forEach((p, pi) => {
  const x = d3.scaleLog().domain(freqRange).range([p.x0, p.x1]);
  const y = d3.scaleLog().domain(dispRange).range([yBot, yTop]);
  const g = svg.append("g");

  g.append("rect").attr("x", p.x0).attr("y", yTop)
    .attr("width", p.x1 - p.x0).attr("height", yBot - yTop).attr("fill", "#ffffff");

  const clipId = "plotclip" + pi;
  g.append("clipPath").attr("id", clipId).append("rect")
    .attr("x", p.x0).attr("y", yTop).attr("width", p.x1 - p.x0).attr("height", yBot - yTop);

  // grid
  const minorX = [6, 7, 8, 9, 20, 30, 40, 50, 60, 70, 80, 90];
  const majorX = [10, 100];
  const minorY = [], majorY = [];
  for (let e = -16; e < -8; e++) {
    for (let m = 2; m <= 9; m++) minorY.push(m * Math.pow(10, e));
    if (e > -16) majorY.push(Math.pow(10, e));
  }
  const grid = g.append("g").attr("shape-rendering", "crispEdges");
  grid.selectAll("line.mx").data(minorX).join("line")
    .attr("x1", d => crisp(x(d))).attr("x2", d => crisp(x(d)))
    .attr("y1", yTop).attr("y2", yBot)
    .attr("stroke", "#1a1a1a").attr("stroke-width", 1).attr("stroke-dasharray", "8,6");
  grid.selectAll("line.my").data(minorY).join("line")
    .attr("y1", d => crisp(y(d))).attr("y2", d => crisp(y(d)))
    .attr("x1", p.x0).attr("x2", p.x1)
    .attr("stroke", "#1a1a1a").attr("stroke-width", 1).attr("stroke-dasharray", "8,6");
  grid.selectAll("line.Mx").data(majorX).join("line")
    .attr("x1", d => crisp(x(d))).attr("x2", d => crisp(x(d)))
    .attr("y1", yTop).attr("y2", yBot).attr("stroke", "#000").attr("stroke-width", 1);
  grid.selectAll("line.My").data(majorY).join("line")
    .attr("y1", d => crisp(y(d))).attr("y2", d => crisp(y(d)))
    .attr("x1", p.x0).attr("x2", p.x1).attr("stroke", "#000").attr("stroke-width", 1);

  // traces
  const traces = g.append("g").attr("clip-path", `url(#${clipId})`);
  p.series.forEach(s => {
    const line = d3.line().x(d => x(d[0])).y(d => y(d[1]));
    if (s.smooth) line.curve(d3.curveMonotoneX);
    traces.append("path").attr("d", line(s.data))
      .attr("fill", "none").attr("stroke", s.color)
      .attr("stroke-width", 2.2)
      .attr("stroke-linejoin", "round");
  });

  // harmonic markers (downward triangles)
  traces.selectAll("path.marker").data(p.markers).join("path")
    .attr("d", d => {
      const cx = x(d[0]), cy = y(d[1]);
      return `M${cx - 7},${cy - 5.5}L${cx + 7},${cy - 5.5}L${cx},${cy + 6}Z`;
    })
    .attr("fill", "none").attr("stroke", colors.marker).attr("stroke-width", 2);

  // ticks
  const ticks = g.append("g").attr("stroke", "#000").attr("stroke-width", 1).attr("shape-rendering", "crispEdges");
  minorX.concat(majorX).forEach(f => {
    const len = majorX.includes(f) ? 9 : 5, xx = crisp(x(f));
    ticks.append("line").attr("x1", xx).attr("x2", xx).attr("y1", yBot).attr("y2", yBot - len);
    ticks.append("line").attr("x1", xx).attr("x2", xx).attr("y1", yTop).attr("y2", yTop + len);
  });
  minorY.concat(majorY).forEach(v => {
    const len = majorY.includes(v) ? 9 : 5, yy = crisp(y(v));
    ticks.append("line").attr("x1", p.x0).attr("x2", p.x0 + len).attr("y1", yy).attr("y2", yy);
    ticks.append("line").attr("x1", p.x1).attr("x2", p.x1 - len).attr("y1", yy).attr("y2", yy);
  });

  // frame
  g.append("rect").attr("x", p.x0).attr("y", yTop)
    .attr("width", p.x1 - p.x0).attr("height", yBot - yTop)
    .attr("fill", "none").attr("stroke", "#000").attr("stroke-width", 1.6);

  // tick labels
  xTickExps.forEach(e => powerLabel(g, x(Math.pow(10, e)) - 1, 1010, e, "middle", 28, 18, 15));
  if (p.yLabels) {
    yTickExps.forEach(e => powerLabel(g, 122, y(Math.pow(10, e)) + 10, e, "end", 28, 18, 18));
    g.append("text")
      .attr("transform", `translate(43,${(yTop + yBot) / 2}) rotate(-90)`)
      .attr("text-anchor", "middle").attr("font-size", 39).attr("fill", "#000")
      .text("Displacement [m/\u221AHz]");
  }

  // titles
  const cx = (p.x0 + p.x1) / 2;
  g.append("text").attr("x", cx - 1).attr("y", 47).attr("text-anchor", "middle")
    .attr("font-size", 49).attr("fill", "#000").text(p.title);
  g.append("text").attr("x", cx - 3).attr("y", 1032).attr("text-anchor", "middle")
    .attr("font-size", 32).attr("fill", "#000").text("Frequency [Hz]");

  // legend
  const lb = p.legendBox;
  const lg = g.append("g");
  lg.append("rect").attr("x", lb.x + 0.5).attr("y", lb.y + 0.5).attr("width", lb.w).attr("height", lb.h)
    .attr("fill", "#fff").attr("stroke", "#000").attr("stroke-width", 1.2);
  p.series.forEach((s, i) => {
    const cy = lb.y + 15.5 + i * 28;
    lg.append("line").attr("x1", lb.x + 13).attr("x2", lb.x + 58).attr("y1", cy).attr("y2", cy)
      .attr("stroke", s.color).attr("stroke-width", 3);
    lg.append("text").attr("x", lb.x + 72).attr("y", cy + 10.3)
      .attr("font-size", 24).attr("font-weight", "bold").attr("fill", "#000").text(s.name);
  });
});
</script>
</body>
</html>
